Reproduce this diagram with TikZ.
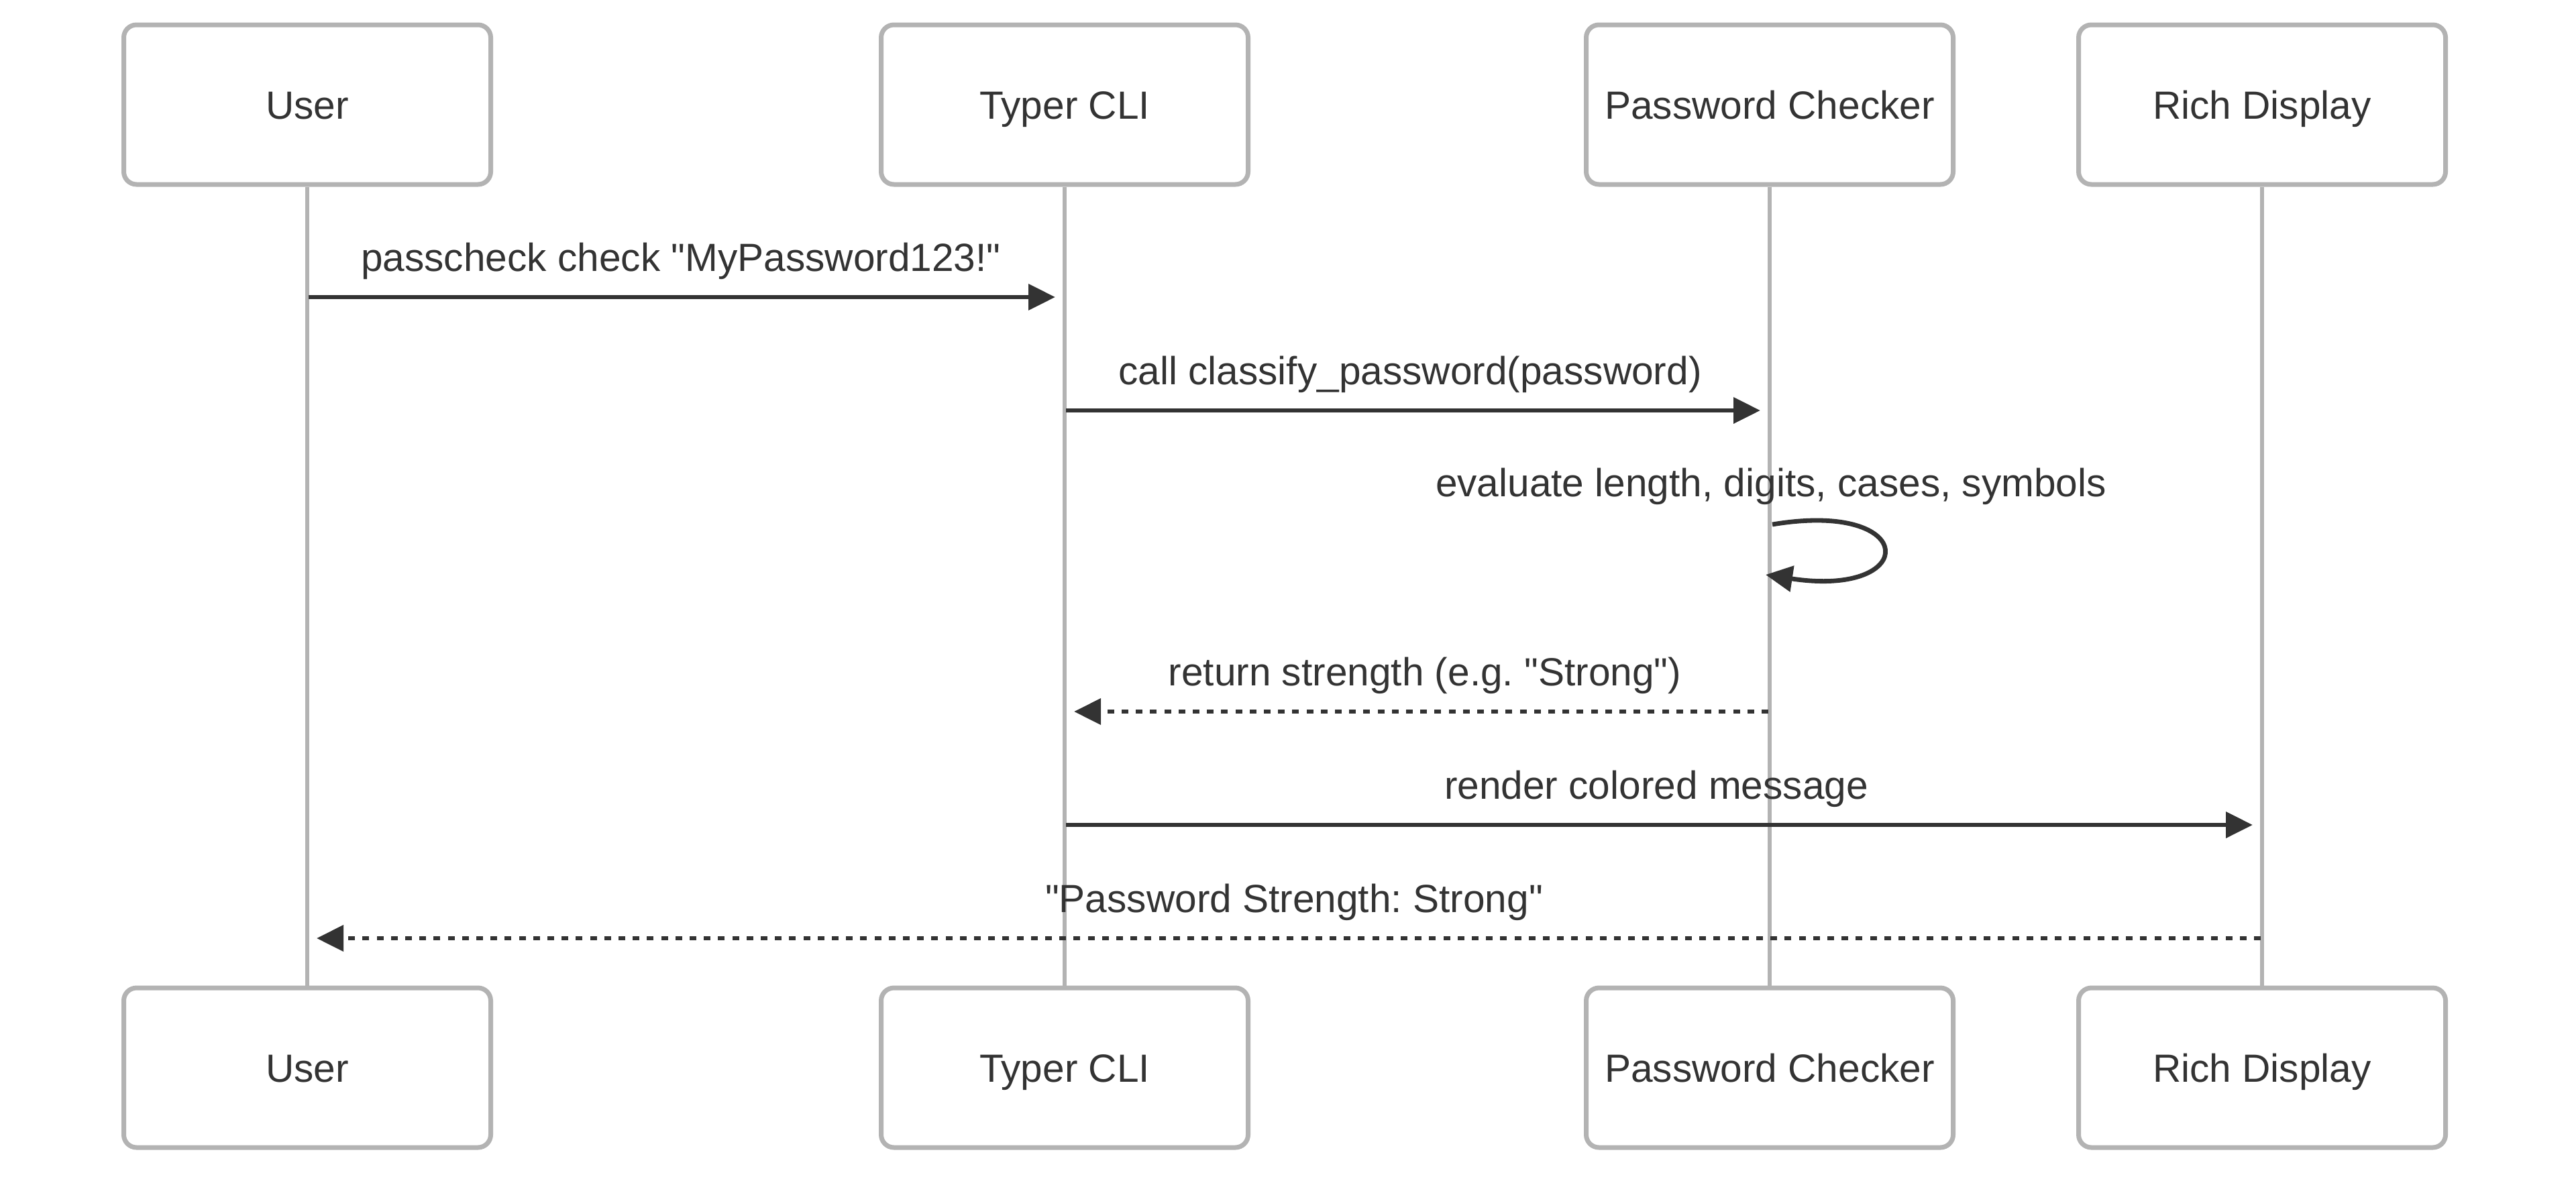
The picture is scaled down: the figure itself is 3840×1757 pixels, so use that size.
\documentclass[tikz,border=0pt]{standalone}
\usepackage{fontspec}
\setmainfont{Liberation Sans}[Ligatures=TeXOff]
\usetikzlibrary{arrows.meta}
\definecolor{boxgray}{HTML}{B3B3B3}
\definecolor{ink}{HTML}{333333}
\newcommand{\dq}{\symbol{34}}
\frenchspacing
\tikzset{
  actor/.style={draw=boxgray, line width=1.75pt, fill=white, rounded corners=4.75pt,
    minimum width=547*0.25pt, minimum height=238*0.25pt, inner sep=0pt,
    text=ink, text height=10.5pt, text depth=0pt, font=\fontsize{14.65}{17}\selectfont},
  lifeline/.style={draw=boxgray, line width=1.5pt},
  msg/.style={draw=ink, line width=1.7pt, -{Triangle[length=10pt,width=9.5pt]}},
  reply/.style={msg, dash pattern=on 2.5pt off 2.8pt},
  msglabel/.style={anchor=base, text=ink, inner sep=0pt, font=\fontsize{14.65}{17}\selectfont}
}
\begin{document}
\begin{tikzpicture}[x=0.25pt, y=-0.25pt]
\useasboundingbox (0,0) rectangle (3840,1757);
% top actors
\node[actor] (uT) at (458,156) {User};
\node[actor] (tT) at (1587,156) {Typer CLI};
\node[actor] (pT) at (2638,156) {Password Checker};
\node[actor] (rT) at (3372,156) {Rich Display};
% bottom actors
\node[actor] (uB) at (458,1592) {User};
\node[actor] (tB) at (1587,1592) {Typer CLI};
\node[actor] (pB) at (2638,1592) {Password Checker};
\node[actor] (rB) at (3372,1592) {Rich Display};
% lifelines
\draw[lifeline] (uT.south) -- (uB.north);
\draw[lifeline] (tT.south) -- (tB.north);
\draw[lifeline] (pT.south) -- (pB.north);
\draw[lifeline] (rT.south) -- (rB.north);
% message end points
\coordinate (m1a) at (460,443);  \coordinate (m1b) at (1573,443);
\coordinate (m2a) at (1589,612); \coordinate (m2b) at (2624,612);
\coordinate (m3a) at (2642,782); \coordinate (m3b) at (2632,857);
\coordinate (m4a) at (2636,1061); \coordinate (m4b) at (1601,1061);
\coordinate (m5a) at (1589,1230); \coordinate (m5b) at (3358,1230);
\coordinate (m6a) at (3370,1399); \coordinate (m6b) at (472,1399);
% messages
\draw[msg] (m1a) -- (m1b);
\node[msglabel] (l1) at (1015,404) {passcheck check \dq MyPassword123!\dq};
\draw[msg] (m2a) -- (m2b);
\node[msglabel] (l2) at (2102,573) {call classify\_password(password)};
\draw[msg] (m3a) .. controls (2862,745) and (2862,892) .. (m3b);
\node[msglabel] (l3) at (2640,740) {evaluate length, digits, cases, symbols};
\draw[reply] (m4a) -- (m4b);
\node[msglabel] (l4) at (2124,1022) {return strength (e.g. \dq Strong\dq)};
\draw[msg] (m5a) -- (m5b);
\node[msglabel] (l5) at (2469,1191) {render colored message};
\draw[reply] (m6a) -- (m6b);
\node[msglabel] (l6) at (1929,1360) {\dq Password Strength: Strong\dq};
\end{tikzpicture}
\end{document}
